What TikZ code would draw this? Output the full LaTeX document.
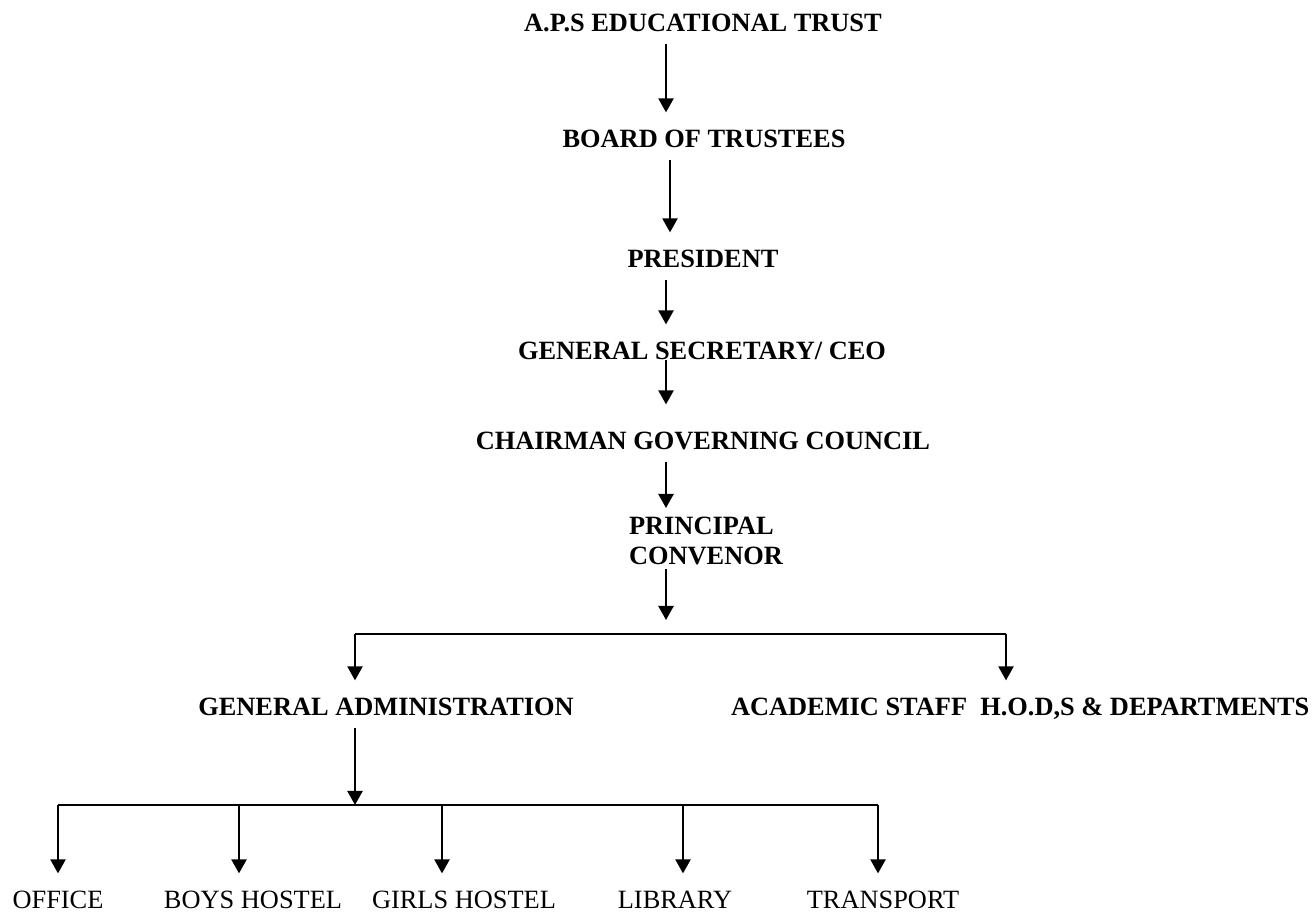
\documentclass[tikz,border=0pt]{standalone}
\usepackage{fontspec}
\setmainfont{Liberation Serif}
\usepackage{tikz}
\usetikzlibrary{calc, arrows.meta}
\tikzstyle{head}  = [font=\fontsize{7.5}{8.5}\selectfont\bfseries, inner sep=0pt, outer sep=0.12cm, text height=0.66em, text depth=0pt]
\tikzstyle{unit}  = [font=\fontsize{7.5}{8.5}\selectfont, inner sep=0pt, outer sep=0.12cm, text height=0.66em, text depth=0pt]
\tikzstyle{line}  = [line width=0.6pt]
\tikzstyle{arrow} = [line width=0.6pt, -{Triangle[width=4.3pt,length=4pt]}]

\begin{document}
\begin{tikzpicture}[x=0.01cm, y=-0.01cm]
    \useasboundingbox (0,0) rectangle (1312,913);

    \node (trust)     [head] at (703,20)  {A.P.S EDUCATIONAL TRUST};
    \node (board)     [head] at (704,136) {BOARD OF TRUSTEES};
    \node (president) [head] at (703,256) {PRESIDENT};
    \node (gensec)    [head] at (702,348) {GENERAL SECRETARY/ CEO};
    \node (chairman)  [head] at (703,438) {CHAIRMAN GOVERNING COUNCIL};
    \node (principal) [head, align=left, anchor=north, text height=0.66em+0.30cm] at (706,499) {PRINCIPAL\\CONVENOR};

    \node (ga)   [head] at (386,704) {GENERAL ADMINISTRATION};
    \node (acad) [head, anchor=west] at (719,704) {ACADEMIC STAFF\ \ H.O.D,S \& DEPARTMENTS};

    \node (office)    [unit] at (58,897)  {OFFICE};
    \node (boys)      [unit] at (253,897) {BOYS HOSTEL};
    \node (girls)     [unit] at (464,897) {GIRLS HOSTEL};
    \node (library)   [unit] at (675,897) {LIBRARY};
    \node (transport) [unit] at (883,897) {TRANSPORT};

    \coordinate (spine) at (666,0);
    \coordinate (split) at (666,634);
    \coordinate (left)  at (355,634);
    \coordinate (right) at (1006,634);
    \coordinate (sub)   at (355,805);
    \coordinate (barleft)  at (58,805);
    \coordinate (barright) at (878,805);

    \draw [arrow] (trust.south -| spine)     -- (board.north -| spine);
    \draw [arrow] ([xshift=0.04cm]board.south -| spine) -- ([xshift=0.04cm]president.north -| spine);
    \draw [arrow] (president.south -| spine) -- (gensec.north -| spine);
    \draw [arrow] ([yshift=0.12cm]gensec.south -| spine) -- ([yshift=0.1cm]chairman.north -| spine);
    \draw [arrow] (chairman.south -| spine)  -- ([yshift=-0.09cm]principal.north -| spine);
    \draw [arrow, shorten >=0.14cm] ([yshift=0.07cm]principal.south -| spine) -- (split);

    \draw [line]  (left) -- (right);
    \draw [arrow] (left)  -- (left |- ga.north);
    \draw [arrow] (right) -- (right |- acad.north);

    \draw [arrow] (ga.south -| sub) -- (sub);
    \draw [line]  (barleft) -- (barright);
    \foreach \n/\x in {office/58, boys/239, girls/442, library/683, transport/878}
      \draw [arrow] (\x,805) -- (\x,805 |- \n.north);

  \end{tikzpicture}
\end{document}
